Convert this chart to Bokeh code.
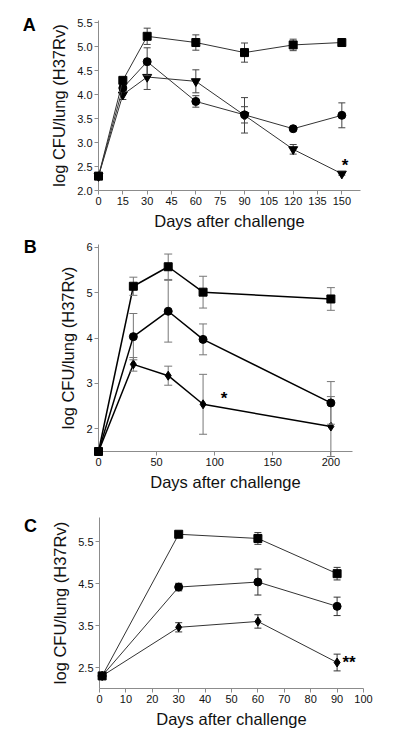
from bokeh.plotting import figure
from bokeh.models import FixedTicker, PrintfTickFormatter, Range1d
from bokeh.core.properties import value
from bokeh.embed import file_html
from bokeh.resources import INLINE

FONT = "Liberation Sans"

# ---------------- Panel A ----------------
a_days = [0, 15, 30, 60, 90, 120, 150]
a_sq = [2.30, 4.30, 5.22, 5.09, 4.88, 5.04, 5.09]
a_sq_err = [0.0, 0.04, 0.17, 0.16, 0.20, 0.12, 0.03]
a_ci = [2.30, 4.14, 4.69, 3.86, 3.58, 3.29, 3.57]
a_ci_err = [0.0, 0.04, 0.29, 0.12, 0.17, 0.03, 0.26]
a_tr = [2.30, 4.00, 4.37, 4.28, 3.57, 2.86, 2.35]
a_tr_err = [0.0, 0.10, 0.26, 0.24, 0.37, 0.10, 0.03]
a_xticks = [0, 15, 30, 45, 60, 75, 90, 105, 120, 135, 150]
a_yticks = [2.0, 2.5, 3.0, 3.5, 4.0, 4.5, 5.0, 5.5]
a_star = {"x": 152, "y": 2.52, "text": "*"}
a_letter = {"x": -46.7, "y": 5.45, "text": "A"}

# ---------------- Panel B ----------------
b_days = [0, 30, 60, 90, 200]
b_sq = [1.5, 5.14, 5.57, 5.01, 4.86]
b_sq_err = [0.0, 0.20, 0.28, 0.35, 0.25]
b_ci = [1.5, 4.03, 4.59, 3.97, 2.57]
b_ci_err = [0.0, 0.51, 0.68, 0.34, 0.47]
b_di = [1.5, 3.42, 3.17, 2.54, 2.05]
b_di_err = [0.0, 0.15, 0.21, 0.66, 0.66]
b_xticks = [0, 50, 100, 150, 200]
b_yticks = [2, 3, 4, 5, 6]
b_star = {"x": 108, "y": 2.66, "text": "*"}
b_letter = {"x": -64.3, "y": 6.01, "text": "B"}

# ---------------- Panel C ----------------
c_days = [1, 30, 60, 90]
c_sq = [2.30, 5.68, 5.58, 4.74]
c_sq_err = [0.0, 0.03, 0.14, 0.15]
c_ci = [2.30, 4.42, 4.54, 3.96]
c_ci_err = [0.0, 0.09, 0.31, 0.22]
c_di = [2.30, 3.46, 3.60, 2.62]
c_di_err = [0.0, 0.11, 0.16, 0.20]
c_xticks = [0, 10, 20, 30, 40, 50, 60, 70, 80, 90, 100]
c_yticks = [2.5, 3.5, 4.5, 5.5]
c_star = {"x": 92.0, "y": 2.62, "text": "**"}
c_letter = {"x": -28.6, "y": 5.88, "text": "C"}

AXIS_GRAY = "#8c8c8c"


def make_panel(width, height, xr, yr, borders, xticks, yticks, yfmt):
    left, right, top, bottom = borders
    p = figure(width=width, height=height, x_range=Range1d(*xr), y_range=Range1d(*yr),
               output_backend="svg", toolbar_location=None,
               min_border_left=left, min_border_right=right,
               min_border_top=top, min_border_bottom=bottom)
    p.grid.visible = False
    p.outline_line_color = None
    p.background_fill_color = "white"
    p.border_fill_color = "white"
    p.xaxis.ticker = FixedTicker(ticks=xticks)
    p.yaxis.ticker = FixedTicker(ticks=yticks)
    if yfmt:
        p.yaxis.formatter = PrintfTickFormatter(format=yfmt)
    for ax in p.axis:
        ax.axis_line_color = AXIS_GRAY
        ax.axis_line_width = 1
        ax.major_tick_line_color = AXIS_GRAY
        ax.major_tick_out = 4
        ax.major_tick_in = 0
        ax.minor_tick_out = 0
        ax.minor_tick_in = 0
        ax.major_label_text_font = FONT
        ax.major_label_text_font_size = "11px"
        ax.major_label_text_color = "#111111"
        ax.major_label_standoff = 2
        ax.axis_label_text_font = FONT
        ax.axis_label_text_font_size = "16.5px"
        ax.axis_label_text_font_style = "normal"
        ax.axis_label_text_color = "#111111"
    p.xaxis.axis_label = "Days after challenge"
    p.yaxis.axis_label = "log CFU/lung (H37Rv)"
    p.xaxis.axis_label_standoff = 4
    p.yaxis.axis_label_standoff = 6
    return p


def add_series(p, days, vals, errs, marker, size, line_w, line_c, err_c, cap):
    p.line(days, vals, line_width=line_w, line_color=line_c, level="overlay")
    ex = [d for d, e in zip(days, errs) if e > 0]
    lo = [v - e for v, e in zip(vals, errs) if e > 0]
    hi = [v + e for v, e in zip(vals, errs) if e > 0]
    p.segment(x0=ex, y0=lo, x1=ex, y1=hi, line_color=err_c, line_width=1, level="overlay")
    p.scatter(ex + ex, lo + hi, marker="dash", size=cap, line_color=err_c, line_width=1,
              level="overlay")
    p.scatter(days, vals, marker=marker, size=size, fill_color="black", line_color="black",
              level="overlay")


def add_text(p, item, size, align):
    p.text(x=[item["x"]], y=[item["y"]], text=[item["text"]], text_font=value(FONT),
           text_font_size=size, text_font_style="bold", text_align=align,
           text_baseline="alphabetic", text_color="black", level="overlay")


# Panel A
pa = make_panel(404, 234, (0, 161.5), (2.0, 5.55), (98, 44, 20, 44), a_xticks, a_yticks, "%.1f")
add_series(pa, a_days, a_tr, a_tr_err, "inverted_triangle", 9, 1, "#333333", "#444444", 7)
add_series(pa, a_days, a_ci, a_ci_err, "circle", 8, 1, "#333333", "#444444", 7)
add_series(pa, a_days, a_sq, a_sq_err, "square", 8, 1, "#333333", "#444444", 7)
add_text(pa, a_star, "17px", "center")
add_text(pa, a_letter, "18px", "left")

# Panel B
pb = make_panel(404, 260, (0, 218.6), (1.5, 6.06), (98, 52, 10, 43), b_xticks, b_yticks, None)
add_series(pb, b_days, b_di, b_di_err, "diamond", 9, 1.5, "black", "#777777", 8)
add_series(pb, b_days, b_ci, b_ci_err, "circle", 8, 1.5, "black", "#777777", 8)
add_series(pb, b_days, b_sq, b_sq_err, "square", 8, 1.5, "black", "#777777", 8)
add_text(pb, b_star, "17px", "center")
add_text(pb, b_letter, "18px", "left")

# Panel C
pc = make_panel(404, 260, (0, 100), (2.0, 6.08), (99, 41, 23, 66), c_xticks, c_yticks, "%.1f")
add_series(pc, c_days, c_di, c_di_err, "diamond", 9, 1, "#333333", "#333333", 7)
add_series(pc, c_days, c_ci, c_ci_err, "circle", 8, 1, "#333333", "#333333", 7)
add_series(pc, c_days, c_sq, c_sq_err, "square", 8, 1, "#333333", "#333333", 7)
add_text(pc, c_star, "17px", "left")
add_text(pc, c_letter, "18px", "left")

open("out.html", "w").write(file_html([pa, pb, pc], INLINE))
